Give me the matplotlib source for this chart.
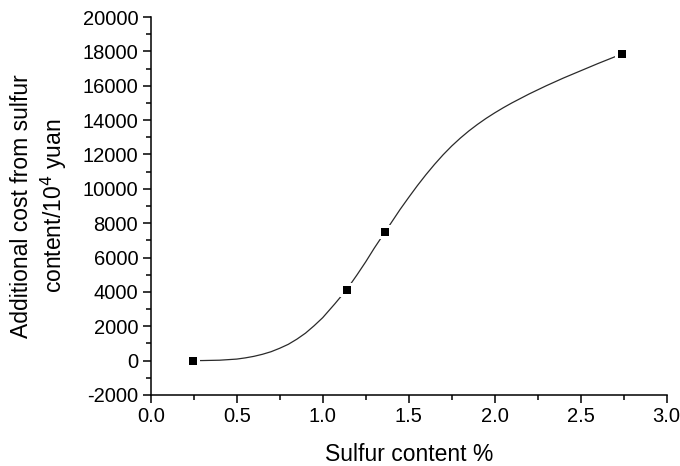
import matplotlib
matplotlib.use("Agg")
import matplotlib.pyplot as plt
from matplotlib.ticker import MultipleLocator

plt.rcParams['font.family'] = ['Liberation Sans', 'DejaVu Sans']
plt.rcParams['axes.unicode_minus'] = False

# measured points
sulfur = [0.244, 1.14, 1.362, 2.738]
cost = [0, 4140, 7480, 17840]

# smooth connecting curve
curve_x = [0.244, 0.30, 0.40, 0.50, 0.55, 0.60, 0.65, 0.70, 0.75, 0.80, 0.85,
           0.90, 0.95, 1.00, 1.07, 1.14, 1.20, 1.25, 1.30, 1.362, 1.40, 1.45,
           1.50, 1.55, 1.60, 1.65, 1.70, 1.75, 1.80, 1.85, 1.90, 1.95, 2.00,
           2.05, 2.10, 2.20, 2.30, 2.40, 2.50, 2.60, 2.70, 2.738]
curve_y = [0, 5, 25, 90, 160, 250, 370, 520, 720, 950, 1250,
           1600, 2030, 2500, 3300, 4140, 5000, 5750, 6550, 7480, 8050, 8800,
           9500, 10180, 10820, 11420, 11980, 12490, 12950, 13370, 13750, 14100, 14420,
           14720, 15000, 15520, 16000, 16450, 16870, 17290, 17690, 17840]

x_ticks = [0.0, 0.5, 1.0, 1.5, 2.0, 2.5, 3.0]
y_ticks = list(range(-2000, 20001, 2000))

fig = plt.figure(figsize=(6.8, 4.66), dpi=100, facecolor='w')
ax = fig.add_axes([150.7/680, 71/466, 516/680, 378/466])

ax.plot(curve_x, curve_y, '-', color='#2a2a2a', lw=0.9, zorder=2)
# white halo so the line stops short of the symbols
ax.plot(sulfur, cost, 's', color='white', ms=10.5, mew=0, zorder=3)
ax.plot(sulfur, cost, 's', color='black', ms=6, mew=0, zorder=4)

ax.set_xlim(0, 3.0)
ax.set_ylim(-2000, 20000)
ax.set_xticks(x_ticks)
ax.set_xticklabels(["%.1f" % v for v in x_ticks])
ax.set_yticks(y_ticks)
ax.xaxis.set_minor_locator(MultipleLocator(0.25))
ax.yaxis.set_minor_locator(MultipleLocator(1000))

for s in ['top', 'right']:
    ax.spines[s].set_visible(False)
for s in ['left', 'bottom']:
    ax.spines[s].set_linewidth(1.1)

ax.tick_params(which='major', direction='out', length=6, width=1.1, labelsize=14.5, pad=3)
ax.tick_params(which='minor', direction='out', length=3.5, width=1.1)

ax.set_xlabel("Sulfur content %", fontsize=16.5, labelpad=12)
ax.set_ylabel("Additional cost from sulfur\ncontent/10$^4$ yuan", fontsize=16.5,
              labelpad=10, linespacing=1.25)

fig.savefig("out.png", dpi=100)
